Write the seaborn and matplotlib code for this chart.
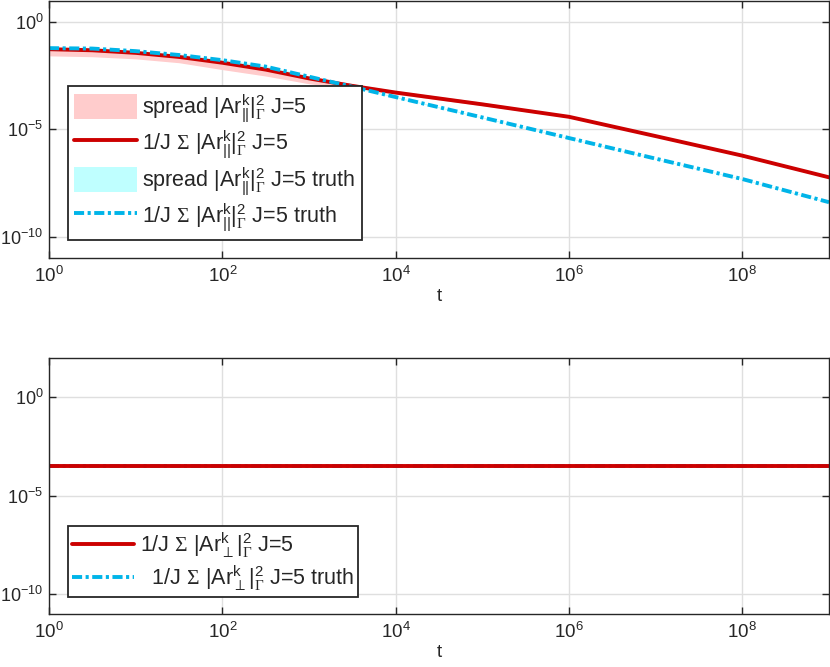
import numpy as np
import pandas as pd
import matplotlib
matplotlib.use("Agg")
import matplotlib.pyplot as plt
import seaborn as sns
from matplotlib.patches import Patch
from matplotlib.lines import Line2D

# ---------------- data (log10 values) ----------------
log_t = [0, 0.5, 1, 1.5, 2, 2.5, 3, 3.5, 4, 5, 6, 7, 8, 9]
red_mean_log = [-1.27, -1.32, -1.44, -1.63, -1.90, -2.22, -2.63, -2.98, -3.29, -3.84, -4.42, -5.32, -6.23, -7.24]
red_lo_log = [-1.58, -1.62, -1.72, -1.90, -2.22, -2.52, -2.88, -3.12, -3.37, -3.90, -4.46, -5.35, -6.26, -7.27]
red_hi_log = [-1.19, -1.22, -1.33, -1.52, -1.80, -2.12, -2.52, -2.88, -3.20, -3.74, -4.36, -5.28, -6.20, -7.21]
blue_mean_log = [-1.22, -1.24, -1.36, -1.54, -1.78, -2.08, -2.55, -3.02, -3.50, -4.45, -5.41, -6.37, -7.32, -8.40]
blue_lo_log = [-1.27, -1.29, -1.41, -1.59, -1.83, -2.13, -2.59, -3.05, -3.53, -4.47, -5.43, -6.39, -7.34, -8.42]
blue_hi_log = [-1.17, -1.19, -1.31, -1.49, -1.73, -2.03, -2.51, -2.99, -3.47, -4.43, -5.39, -6.35, -7.30, -8.38]
perp_red_log = [-3.49] * len(log_t)
perp_blue_log = [-3.49] * len(log_t)

x_ticks = [1e0, 1e2, 1e4, 1e6, 1e8]
y_ticks = [1e-10, 1e-5, 1e0]

RED = "#CC0000"
BLUE = "#00B4E8"
PINK = "#FFCCCC"
CYAN = "#BFFFFF"

t = 10.0 ** np.array(log_t)
df = pd.DataFrame({
    "t": t,
    "red": 10.0 ** np.array(red_mean_log),
    "red_lo": 10.0 ** np.array(red_lo_log),
    "red_hi": 10.0 ** np.array(red_hi_log),
    "blue": 10.0 ** np.array(blue_mean_log),
    "blue_lo": 10.0 ** np.array(blue_lo_log),
    "blue_hi": 10.0 ** np.array(blue_hi_log),
    "pred": 10.0 ** np.array(perp_red_log),
    "pblue": 10.0 ** np.array(perp_blue_log),
})

sns.set_theme(style="ticks")
plt.rcParams["font.family"] = ["Liberation Sans", "DejaVu Sans"]
plt.rcParams["mathtext.fontset"] = "custom"
plt.rcParams["mathtext.rm"] = "Liberation Sans"
plt.rcParams["mathtext.sf"] = "Liberation Sans"
plt.rcParams["mathtext.it"] = "Liberation Sans:italic"
plt.rcParams["mathtext.cal"] = "Liberation Serif"
plt.rcParams["mathtext.default"] = "rm"

fig = plt.figure(figsize=(8.3, 6.67), dpi=100)
ax1 = fig.add_axes([49 / 830, (667 - 258) / 667, 780 / 830, 257.5 / 667])
ax2 = fig.add_axes([49 / 830, (667 - 614) / 667, 780 / 830, 256 / 667])

LW = 2.8
DASHDOT = (0, (2.6, 0.9, 0.8, 0.9))

# top panel
ax1.fill_between(df["t"], df["red_lo"], df["red_hi"], color=PINK, lw=0)
ax1.fill_between(df["t"], df["blue_lo"], df["blue_hi"], color=CYAN, lw=0)
sns.lineplot(data=df, x="t", y="red", ax=ax1, color=RED, lw=LW)
sns.lineplot(data=df, x="t", y="blue", ax=ax1, color=BLUE, lw=LW, linestyle=DASHDOT)

# bottom panel
sns.lineplot(data=df, x="t", y="pblue", ax=ax2, color=BLUE, lw=LW, linestyle=DASHDOT)
sns.lineplot(data=df, x="t", y="pred", ax=ax2, color=RED, lw=LW)

par = r"$|\mathrm{Ar}^{\mathrm{k}}_{\mathrm{||}}|^{2}_{\mathcal{\Gamma}}$"
perp = r"$|\mathrm{Ar}^{\mathrm{k}}_{\perp}|^{2}_{\mathcal{\Gamma}}$"
sig = r"$\mathcal{\Sigma}$"

for ax, ylim in ((ax1, (1e-11, 1e1)), (ax2, (1e-11, 1e2))):
    ax.set_xscale("log")
    ax.set_yscale("log")
    ax.set_xlim(1e0, 1e9)
    ax.set_ylim(*ylim)
    ax.set_xticks(x_ticks)
    ax.set_yticks(y_ticks)
    ax.minorticks_off()
    ax.grid(True, color="#DFDFDF", lw=1)
    ax.set_axisbelow(True)
    ax.tick_params(direction="in", length=5, width=1, top=True, right=True,
                   color="#262626", labelcolor="#262626")
    ax.tick_params(axis="x", labelsize=13.5, pad=6)
    ax.tick_params(axis="y", labelsize=13, pad=4)
    for s in ax.spines.values():
        s.set_color("#262626")
        s.set_linewidth(1)
    ax.set_xlabel("t", fontsize=13.5, color="#262626", labelpad=1)
    ax.set_ylabel("")

FS = 15.5
h1 = [
    Patch(facecolor=PINK, edgecolor="none"),
    Line2D([], [], color=RED, lw=LW),
    Patch(facecolor=CYAN, edgecolor="none"),
    Line2D([], [], color=BLUE, lw=LW, linestyle=DASHDOT),
]
l1 = [
    "spread " + par + " J=5",
    "1/J " + sig + " " + par + " J=5",
    "spread " + par + " J=5 truth",
    "1/J " + sig + " " + par + " J=5 truth",
]
leg1 = ax1.legend(h1, l1, loc="upper left", bbox_to_anchor=(0.024, 0.667),
                  fontsize=FS, frameon=True, fancybox=False, framealpha=1,
                  edgecolor="#262626", handlelength=2.9, handleheight=1.4,
                  handletextpad=0.25, labelspacing=0.2, borderpad=0.3, borderaxespad=0)
leg1.get_frame().set_linewidth(1.3)

h2 = [Line2D([], [], color=RED, lw=LW), Line2D([], [], color=BLUE, lw=LW, linestyle=DASHDOT)]
l2 = ["1/J " + sig + " " + perp + " J=5", "  1/J " + sig + " " + perp + " J=5 truth"]
leg2 = ax2.legend(h2, l2, loc="upper left", bbox_to_anchor=(0.024, 0.344),
                  fontsize=FS, frameon=True, fancybox=False, framealpha=1,
                  edgecolor="#262626", handlelength=2.9, handleheight=0.7,
                  handletextpad=0.25, labelspacing=0.15, borderpad=0.2, borderaxespad=0)
leg2.get_frame().set_linewidth(1.3)

fig.savefig("out.png", dpi=100)
